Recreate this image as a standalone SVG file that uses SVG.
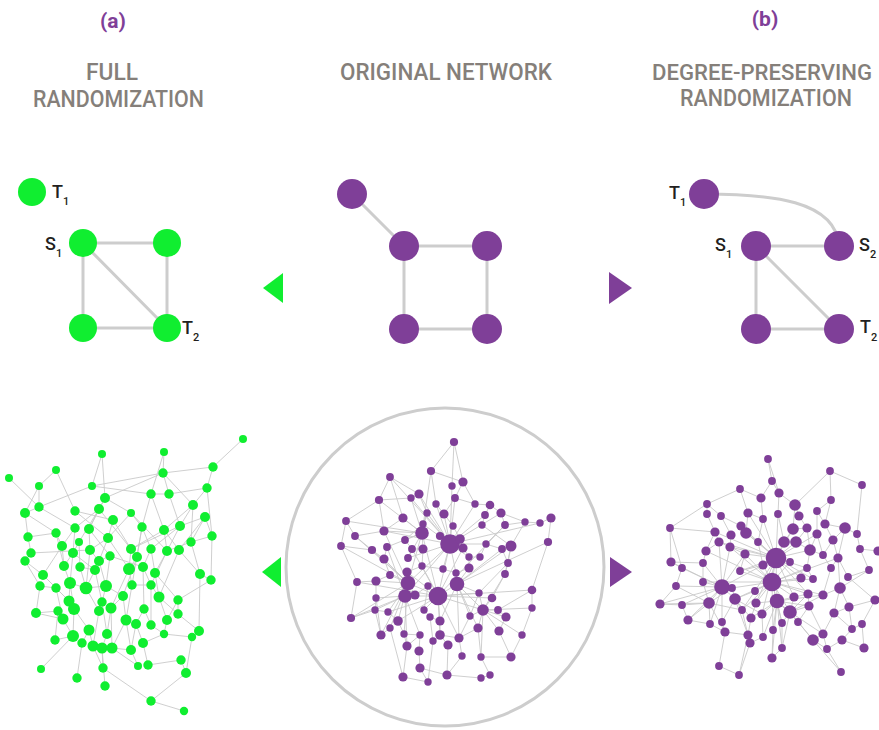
<svg xmlns="http://www.w3.org/2000/svg" width="879" height="730" viewBox="0 0 879 730">
<style>
.hd{font-family:Roboto,"Liberation Sans",Arial,sans-serif;font-weight:500;font-size:24px;fill:#857F7A;text-anchor:middle}
.lt{font-family:Roboto,"Liberation Sans",Arial,sans-serif;font-size:21px;font-weight:bold;fill:#7F3F98;text-anchor:middle}
.lb{font-family:Roboto,"Liberation Sans",Arial,sans-serif;font-weight:500;font-size:18px;fill:#231F20}
.sb{font-size:11px}
.e{stroke:#CDCDCD;stroke-width:3;fill:none}
.ne{stroke:#C9C9C9;stroke-width:0.9;fill:none}
.g{fill:#10EE30}
.p{fill:#7F3F98}
</style>
<rect width="879" height="730" fill="#FFFFFF"/>
<g id="headers">
<text class="lt" x="113" y="28">(a)</text>
<text class="lt" x="765" y="26">(b)</text>
<text class="hd" x="112" y="80" textLength="52" lengthAdjust="spacingAndGlyphs">FULL</text>
<text class="hd" x="118.5" y="107" textLength="171" lengthAdjust="spacingAndGlyphs">RANDOMIZATION</text>
<text class="hd" x="446" y="80" textLength="212" lengthAdjust="spacingAndGlyphs">ORIGINAL NETWORK</text>
<text class="hd" x="762" y="80" style="font-size:22.5px" textLength="220" lengthAdjust="spacingAndGlyphs">DEGREE-PRESERVING</text>
<text class="hd" x="766" y="106" textLength="172" lengthAdjust="spacingAndGlyphs">RANDOMIZATION</text>
</g>
<g id="connectors">
<path class="e" d="M83 243L167 243M83 243L83 328M83 328L167 328M167 243L167 328M83 243L167 328"/>
<path class="e" d="M352 194L404 246M404 246L487 246M404 246L404 329M487 246L487 329M404 329L487 329"/>
<path class="e" d="M704 194C770 194 836 200 839 246M756 246L839 246M756 246L756 329M756 246L839 329M756 329L839 329"/>
</g>
<g id="arrows">
<polygon class="g" points="263,288 283,273 283,303"/>
<polygon class="p" points="632,288 609,272 609,304"/>
<polygon class="g" points="262,572 281,557 281,587"/>
<polygon class="p" points="632,572 610,557 610,587"/>
</g>
<g id="small-full">
<g id="fT1"><circle class="g" cx="32" cy="192" r="14"/><text class="lb" x="52" y="198">T<tspan class="sb" dy="7">1</tspan></text></g>
<g id="fS1"><circle class="g" cx="83" cy="243" r="14"/><text class="lb" x="45" y="250">S<tspan class="sb" dy="7">1</tspan></text></g>
<g id="fA"><circle class="g" cx="167" cy="243" r="14"/></g>
<g id="fB"><circle class="g" cx="83" cy="328" r="14"/></g>
<g id="fT2"><circle class="g" cx="167" cy="328" r="14"/><text class="lb" x="182" y="334">T<tspan class="sb" dy="7">2</tspan></text></g>
</g>
<g id="small-orig">
<g id="oA"><circle class="p" cx="352" cy="194" r="15"/></g>
<g id="oB"><circle class="p" cx="404" cy="246" r="15"/></g>
<g id="oC"><circle class="p" cx="487" cy="246" r="15"/></g>
<g id="oD"><circle class="p" cx="404" cy="329" r="15"/></g>
<g id="oE"><circle class="p" cx="487" cy="329" r="15"/></g>
</g>
<g id="small-deg">
<g id="dT1"><circle class="p" cx="704" cy="194" r="15"/><text class="lb" x="669" y="199">T<tspan class="sb" dy="7">1</tspan></text></g>
<g id="dS1"><circle class="p" cx="756" cy="246" r="15"/><text class="lb" x="715" y="251">S<tspan class="sb" dy="7">1</tspan></text></g>
<g id="dS2"><circle class="p" cx="839" cy="246" r="15"/><text class="lb" x="859" y="251">S<tspan class="sb" dy="7">2</tspan></text></g>
<g id="dB"><circle class="p" cx="756" cy="329" r="15"/></g>
<g id="dT2"><circle class="p" cx="839" cy="329" r="15"/><text class="lb" x="860" y="333">T<tspan class="sb" dy="8">2</tspan></text></g>
</g>
<circle id="orig-circle" cx="445" cy="567" r="159" fill="none" stroke="#CDCDCD" stroke-width="3"/>
<g id="net-full">
<path class="ne" d="M243 439L213 467M213 467L163 473M213 467L207 488M164 452L151 494M102 454L105 498M56 470L75 511M9 478L39 507M39 486L25 513M92 486L39 507M92 486L151 494M163 473L105 498M163 473L193 505M207 488L169 494M207 488L193 505M207 488L212 536M151 494L164 530M151 494L169 494M169 494L180 526M105 498L99 509M105 498L131 513M105 498L89 529M39 507L25 513M39 507L75 528M25 513L28 537M25 513L56 533M75 511L113 520M75 511L108 538M99 509L75 528M99 509L89 529M99 509L79 542M99 509L131 549M131 513L142 527M131 513L167 551M193 505L180 526M193 505L191 542M193 505L164 530M205 517L180 526M205 517L212 536M205 517L191 542M205 517L179 550M113 520L108 538M113 520L131 549M75 528L62 546M75 528L73 553M89 529L90 550M89 529L110 556M142 527L137 557M142 527L132 585M142 527L151 549M164 530L167 551M164 530L179 550M164 530L131 549M180 526L131 549M180 526L151 549M212 536L211 580M212 536L191 542M28 537L31 553M28 537L56 533M56 533L62 546M56 533L64 566M108 538L90 550M108 538L99 561M108 538L129 569M79 542L73 553M79 542L80 567M62 546L64 566M62 546L43 575M191 542L167 551M191 542L200 574M31 553L25 561M31 553L90 550M73 553L64 566M73 553L95 570M90 550L99 561M90 550L86 588M131 549L137 557M131 549L129 569M151 549L143 567M151 549L155 573M167 551L155 573M167 551L151 585M179 550L200 574M179 550L159 597M25 561L43 575M25 561L40 586M110 556L99 561M110 556L106 586M110 556L143 567M137 557L129 569M137 557L123 596M64 566L70 583M80 567L95 570M80 567L86 588M99 561L106 586M129 569L132 585M129 569L111 608M143 567L151 585M143 567L144 609M95 570L86 588M95 570L102 602M43 575L56 588M43 575L69 601M155 573L159 597M155 573L178 600M200 574L211 580M200 574L199 631M211 580L178 600M40 586L36 613M40 586L56 588M56 588L69 601M56 588L63 619M70 583L86 588M70 583L69 601M70 583L74 609M86 588L106 586M86 588L99 611M106 586L123 596M106 586L102 602M132 585L151 585M132 585L126 620M151 585L159 597M151 585L151 625M123 596L126 620M123 596L111 608M159 597L167 620M159 597L178 614M178 600L178 614M178 600L167 620M69 601L74 609M102 602L99 611M102 602L107 634M58 611L36 613M58 611L63 619M58 611L55 640M74 609L89 630M74 609L73 636M111 608L107 634M111 608L112 648M99 611L93 646M36 613L63 619M144 609L136 624M144 609L151 625M63 619L73 636M178 614L199 631M126 620L131 650M126 620L112 648M136 624L143 643M136 624L131 650M151 625L164 634M167 620L164 634M89 630L93 646M89 630L82 643M107 634L102 648M164 634L192 637M164 634L143 643M199 631L192 637M192 637L186 673M55 640L73 636M73 636L41 669M82 643L77 678M93 646L103 668M102 648L105 686M112 648L131 650M131 650L138 666M143 643L148 665M181 660L148 665M181 660L186 673M103 668L151 701M151 701L184 711M151 701L186 673M164 452L163 473M102 454L92 486M151 494L142 527M131 513L108 538M180 526L167 551M73 553L70 583M39 486L39 507M169 494L163 473M112 648L138 666M102 648L103 668M92 486L163 473M56 470L39 486"/>
<circle class="g" cx="243" cy="439" r="4"/><circle class="g" cx="213" cy="467" r="4.7"/><circle class="g" cx="164" cy="452" r="4"/><circle class="g" cx="102" cy="454" r="4"/><circle class="g" cx="56" cy="470" r="4"/><circle class="g" cx="9" cy="478" r="4"/><circle class="g" cx="39" cy="486" r="4"/><circle class="g" cx="92" cy="486" r="4"/><circle class="g" cx="163" cy="473" r="4.7"/><circle class="g" cx="207" cy="488" r="4.7"/>
<circle class="g" cx="151" cy="494" r="4.7"/><circle class="g" cx="169" cy="494" r="4.7"/><circle class="g" cx="105" cy="498" r="5"/><circle class="g" cx="39" cy="507" r="4.7"/><circle class="g" cx="25" cy="513" r="5"/><circle class="g" cx="75" cy="511" r="4.7"/><circle class="g" cx="99" cy="509" r="5"/><circle class="g" cx="131" cy="513" r="4"/><circle class="g" cx="193" cy="505" r="5"/><circle class="g" cx="205" cy="517" r="5"/>
<circle class="g" cx="113" cy="520" r="5"/><circle class="g" cx="75" cy="528" r="4.7"/><circle class="g" cx="89" cy="529" r="5"/><circle class="g" cx="142" cy="527" r="4.7"/><circle class="g" cx="164" cy="530" r="5"/><circle class="g" cx="180" cy="526" r="5"/><circle class="g" cx="212" cy="536" r="4.7"/><circle class="g" cx="28" cy="537" r="4.7"/><circle class="g" cx="56" cy="533" r="4.7"/><circle class="g" cx="108" cy="538" r="5"/>
<circle class="g" cx="79" cy="542" r="4"/><circle class="g" cx="62" cy="546" r="5"/><circle class="g" cx="191" cy="542" r="4.7"/><circle class="g" cx="31" cy="553" r="4.7"/><circle class="g" cx="73" cy="553" r="5"/><circle class="g" cx="90" cy="550" r="5"/><circle class="g" cx="131" cy="549" r="5"/><circle class="g" cx="151" cy="549" r="4.7"/><circle class="g" cx="167" cy="551" r="5"/><circle class="g" cx="179" cy="550" r="5"/>
<circle class="g" cx="25" cy="561" r="4.7"/><circle class="g" cx="110" cy="556" r="4.7"/><circle class="g" cx="137" cy="557" r="5"/><circle class="g" cx="64" cy="566" r="5"/><circle class="g" cx="80" cy="567" r="4.7"/><circle class="g" cx="99" cy="561" r="5"/><circle class="g" cx="129" cy="569" r="6"/><circle class="g" cx="143" cy="567" r="5"/><circle class="g" cx="95" cy="570" r="5"/><circle class="g" cx="43" cy="575" r="5"/>
<circle class="g" cx="155" cy="573" r="5"/><circle class="g" cx="200" cy="574" r="5"/><circle class="g" cx="211" cy="580" r="4.7"/><circle class="g" cx="40" cy="586" r="4.7"/><circle class="g" cx="56" cy="588" r="4.7"/><circle class="g" cx="70" cy="583" r="6"/><circle class="g" cx="86" cy="588" r="6.3"/><circle class="g" cx="106" cy="586" r="6"/><circle class="g" cx="132" cy="585" r="4.7"/><circle class="g" cx="151" cy="585" r="4.7"/>
<circle class="g" cx="123" cy="596" r="5"/><circle class="g" cx="159" cy="597" r="5.5"/><circle class="g" cx="178" cy="600" r="4.7"/><circle class="g" cx="69" cy="601" r="5.5"/><circle class="g" cx="102" cy="602" r="4.7"/><circle class="g" cx="58" cy="611" r="4.7"/><circle class="g" cx="74" cy="609" r="6"/><circle class="g" cx="111" cy="608" r="5.5"/><circle class="g" cx="99" cy="611" r="5"/><circle class="g" cx="36" cy="613" r="5"/>
<circle class="g" cx="144" cy="609" r="4.7"/><circle class="g" cx="63" cy="619" r="5.5"/><circle class="g" cx="178" cy="614" r="4.7"/><circle class="g" cx="126" cy="620" r="5.5"/><circle class="g" cx="136" cy="624" r="5"/><circle class="g" cx="151" cy="625" r="4.7"/><circle class="g" cx="167" cy="620" r="5"/><circle class="g" cx="89" cy="630" r="5.5"/><circle class="g" cx="107" cy="634" r="5"/><circle class="g" cx="164" cy="634" r="4.2"/>
<circle class="g" cx="199" cy="631" r="5"/><circle class="g" cx="192" cy="637" r="4.2"/><circle class="g" cx="55" cy="640" r="4.7"/><circle class="g" cx="73" cy="636" r="6"/><circle class="g" cx="82" cy="643" r="4.7"/><circle class="g" cx="93" cy="646" r="5.5"/><circle class="g" cx="102" cy="648" r="5.5"/><circle class="g" cx="112" cy="648" r="5.5"/><circle class="g" cx="131" cy="650" r="5"/><circle class="g" cx="143" cy="643" r="5"/>
<circle class="g" cx="181" cy="660" r="4.7"/><circle class="g" cx="148" cy="665" r="4.7"/><circle class="g" cx="138" cy="666" r="4"/><circle class="g" cx="41" cy="669" r="4"/><circle class="g" cx="103" cy="668" r="4.7"/><circle class="g" cx="186" cy="673" r="5"/><circle class="g" cx="77" cy="678" r="4.7"/><circle class="g" cx="105" cy="686" r="4.7"/><circle class="g" cx="151" cy="701" r="4.7"/><circle class="g" cx="184" cy="711" r="4.2"/>
</g>
<g id="net-orig">
<path class="ne" d="M454 442L431 471M454 442L463 482M454 442L452 486M431 471L436 504M431 471L463 482M390 477L379 500M390 477L403 518M390 477L419 494M463 482L475 504M463 482L455 498M379 500L346 521M379 500L411 498M379 500L384 531M411 498L419 494M419 494L427 513M455 498L444 514M475 504L490 505M490 505L501 513M490 505L485 515M485 515L482 525M501 513L505 525M501 513L525 522M505 525L525 522M525 522L540 523M540 523L551 518M551 518L548 542M525 522L511 546M505 525L486 544M482 525L511 546M346 521L355 536M346 521L341 546M355 536L372 550M341 546L372 550M341 546L357 582M372 550L384 559M387 547L384 559M355 536L384 531M405 540L412 549M423 524L405 540M502 549L511 546M511 546L508 563M511 546L505 574M548 542L532 590M508 563L505 574M505 574L492 598M532 590L532 608M532 590L498 610M532 608L522 635M498 610L506 617M506 617L499 631M499 631L511 657M522 635L511 657M478 628L481 657M478 628L459 638M470 616L459 638M459 638L462 656M462 656L447 675M447 675L481 678M481 678L490 675M481 657L490 675M481 657L511 657M357 582L376 581M357 582L351 618M351 618L375 610M375 610L388 612M388 612L398 621M375 610L381 635M381 635L390 628M390 628L403 677M403 677L407 646M407 646L404 634M404 634L420 635M420 635L419 651M419 651L420 668M420 668L428 682M428 682L403 677M420 668L447 675M428 682L433 641M433 641L430 617M430 617L440 621M440 621L440 635M440 635L448 645M448 645L447 675M440 635L459 638M420 635L407 646M398 621L404 634M415 595L428 586M428 586L424 610M424 610L430 617M407 572L422 566M422 566L443 569M443 569L456 573M456 573L469 568M469 568L469 557M469 557L480 557M480 557L486 544M486 544L502 549M502 549L508 563M508 563L479 593M479 593L470 616M384 559L390 575M390 575L376 581M376 581L376 598M376 598L375 610M376 598L381 635M403 518L384 531M436 504L444 514M444 514L453 526M453 526L460 539M460 539L463 548M463 548L469 557M455 498L475 504M427 513L423 524M408 558L412 549M412 549L423 549M423 549L422 566
M450 544L452 486M450 544L455 498M450 544L436 504M450 544L427 513M450 544L444 514M450 544L440 536M450 544L485 515M450 544L475 504M450 544L423 524M450 544L408 558M450 544L443 569M450 544L456 573M450 544L408 583M450 544L405 596M450 544L438 596M450 544L469 557M450 544L501 513M450 544L384 531M450 544L419 494M450 544L540 523M450 544L486 544M450 544L390 477M450 544L411 498
M438 596L422 533M438 596L408 583M438 596L405 596M438 596L457 584M438 596L422 566M438 596L428 586M438 596L424 610M438 596L440 621M438 596L398 621M438 596L440 635M438 596L479 593M438 596L492 598M438 596L483 610M438 596L412 549M438 596L407 572M438 596L357 582M438 596L532 590M438 596L463 548M438 596L505 525M438 596L388 612M438 596L459 638
M422 533L411 498M422 533L427 513M422 533L403 518M422 533L405 540M422 533L423 549M422 533L408 558M422 533L408 583M422 533L384 531M422 533L387 547M422 533L431 471M422 533L379 500M422 533L346 521
M408 583L405 596M408 583L415 595M408 583L376 581M408 583L390 575M408 583L384 559M408 583L388 612M408 583L351 618M408 583L398 621M408 583L390 628M408 583L381 635M408 583L404 634M408 583L341 546M408 583L372 550M408 583L355 536M408 583L384 531
M405 596L375 610M405 596L376 598M405 596L420 635M405 596L407 646M405 596L351 618M405 596L387 547
M457 584L469 568M457 584L456 573M457 584L479 593M457 584L470 616M457 584L440 621M457 584L478 628M457 584L502 549M457 584L511 546M457 584L483 610M457 584L459 638M457 584L548 542
M483 610L479 593M483 610L492 598M483 610L498 610M483 610L470 616M483 610L506 617M483 610L478 628M483 610L499 631M483 610L505 574M483 610L532 608M483 610L522 635M483 610L481 657"/>
<circle class="p" cx="454" cy="442" r="4.1"/><circle class="p" cx="431" cy="471" r="4.1"/><circle class="p" cx="390" cy="477" r="3.9"/><circle class="p" cx="463" cy="482" r="4.6"/><circle class="p" cx="452" cy="486" r="3.7"/><circle class="p" cx="379" cy="500" r="4.1"/><circle class="p" cx="411" cy="498" r="3.7"/><circle class="p" cx="419" cy="494" r="4.6"/><circle class="p" cx="455" cy="498" r="3.9"/><circle class="p" cx="436" cy="504" r="3.7"/>
<circle class="p" cx="475" cy="504" r="3.7"/><circle class="p" cx="490" cy="505" r="4.3"/><circle class="p" cx="427" cy="513" r="3.7"/><circle class="p" cx="444" cy="514" r="4.6"/><circle class="p" cx="485" cy="515" r="3.9"/><circle class="p" cx="501" cy="513" r="4.6"/><circle class="p" cx="403" cy="518" r="4.6"/><circle class="p" cx="346" cy="521" r="3.9"/><circle class="p" cx="423" cy="524" r="3.7"/><circle class="p" cx="453" cy="526" r="3.7"/>
<circle class="p" cx="482" cy="525" r="3.7"/><circle class="p" cx="505" cy="525" r="3.9"/><circle class="p" cx="525" cy="522" r="3.7"/><circle class="p" cx="540" cy="523" r="3.7"/><circle class="p" cx="551" cy="518" r="4.6"/><circle class="p" cx="384" cy="531" r="4.6"/><circle class="p" cx="422" cy="533" r="6.8"/><circle class="p" cx="440" cy="536" r="4.1"/><circle class="p" cx="450" cy="544" r="9.8"/><circle class="p" cx="460" cy="539" r="4.8"/>
<circle class="p" cx="355" cy="536" r="3.9"/><circle class="p" cx="405" cy="540" r="3.9"/><circle class="p" cx="341" cy="546" r="3.9"/><circle class="p" cx="372" cy="550" r="4.1"/><circle class="p" cx="387" cy="547" r="3.9"/><circle class="p" cx="412" cy="549" r="3.9"/><circle class="p" cx="423" cy="549" r="4.6"/><circle class="p" cx="463" cy="548" r="4.6"/><circle class="p" cx="486" cy="544" r="3.7"/><circle class="p" cx="502" cy="549" r="3.9"/>
<circle class="p" cx="511" cy="546" r="5.5"/><circle class="p" cx="548" cy="542" r="4.1"/><circle class="p" cx="384" cy="559" r="4.6"/><circle class="p" cx="408" cy="558" r="3.9"/><circle class="p" cx="469" cy="557" r="3.7"/><circle class="p" cx="480" cy="557" r="3.7"/><circle class="p" cx="422" cy="566" r="3.7"/><circle class="p" cx="443" cy="569" r="3.7"/><circle class="p" cx="469" cy="568" r="4.6"/><circle class="p" cx="508" cy="563" r="3.9"/>
<circle class="p" cx="390" cy="575" r="3.9"/><circle class="p" cx="407" cy="572" r="4.6"/><circle class="p" cx="456" cy="573" r="3.7"/><circle class="p" cx="505" cy="574" r="3.9"/><circle class="p" cx="357" cy="582" r="3.9"/><circle class="p" cx="376" cy="581" r="4.6"/><circle class="p" cx="408" cy="583" r="7.3"/><circle class="p" cx="428" cy="586" r="3.7"/><circle class="p" cx="457" cy="584" r="7.3"/><circle class="p" cx="376" cy="598" r="3.7"/>
<circle class="p" cx="405" cy="596" r="6.8"/><circle class="p" cx="415" cy="595" r="4.6"/><circle class="p" cx="438" cy="596" r="9.3"/><circle class="p" cx="479" cy="593" r="3.7"/><circle class="p" cx="492" cy="598" r="4.3"/><circle class="p" cx="532" cy="590" r="4.3"/><circle class="p" cx="375" cy="610" r="3.7"/><circle class="p" cx="388" cy="612" r="3.7"/><circle class="p" cx="424" cy="610" r="3.7"/><circle class="p" cx="483" cy="610" r="5.8"/>
<circle class="p" cx="498" cy="610" r="3.9"/><circle class="p" cx="532" cy="608" r="3.7"/><circle class="p" cx="351" cy="618" r="4.1"/><circle class="p" cx="398" cy="621" r="4.8"/><circle class="p" cx="430" cy="617" r="3.7"/><circle class="p" cx="440" cy="621" r="4.6"/><circle class="p" cx="470" cy="616" r="3.7"/><circle class="p" cx="506" cy="617" r="4.6"/><circle class="p" cx="390" cy="628" r="3.7"/><circle class="p" cx="478" cy="628" r="4.6"/>
<circle class="p" cx="499" cy="631" r="4.6"/><circle class="p" cx="381" cy="635" r="4.6"/><circle class="p" cx="404" cy="634" r="3.7"/><circle class="p" cx="420" cy="635" r="3.7"/><circle class="p" cx="440" cy="635" r="4.8"/><circle class="p" cx="459" cy="638" r="4.6"/><circle class="p" cx="522" cy="635" r="3.7"/><circle class="p" cx="433" cy="641" r="3.7"/><circle class="p" cx="407" cy="646" r="4.6"/><circle class="p" cx="448" cy="645" r="4.6"/>
<circle class="p" cx="419" cy="651" r="4.6"/><circle class="p" cx="462" cy="656" r="3.7"/><circle class="p" cx="481" cy="657" r="3.7"/><circle class="p" cx="511" cy="657" r="4.6"/><circle class="p" cx="420" cy="668" r="4.6"/><circle class="p" cx="403" cy="677" r="4.6"/><circle class="p" cx="428" cy="682" r="3.7"/><circle class="p" cx="447" cy="675" r="4.6"/><circle class="p" cx="481" cy="678" r="3.7"/><circle class="p" cx="490" cy="675" r="3.7"/>
</g>
<g id="net-deg">
<path class="ne" d="M776 558L746 533M776 558L784 542M776 558L796 542M776 558L763 565M776 558L758 542M776 558L763 519M776 558L778 514M776 558L715 532M776 558L719 542M776 558L745 554M776 558L790 562M776 558L772 582M776 558L801 578M776 558L810 550M776 558L793 529M776 558L807 568M776 558L794 597M776 558L808 594M776 558L756 603M776 558L777 601M776 558L762 614M776 558L740 571M776 558L755 591M776 558L813 579M776 558L817 534M776 558L741 526M776 558L748 513M776 558L730 547
M772 582L763 565M772 582L732 588M772 582L755 591M772 582L735 599M772 582L756 603M772 582L777 601M772 582L742 610M772 582L790 562M772 582L807 568M772 582L801 578M772 582L813 579M772 582L794 597M772 582L808 594M772 582L823 595M772 582L740 571M772 582L703 582M772 582L745 554M772 582L730 547M772 582L790 612M772 582L782 623M772 582L773 630M772 582L838 558M772 582L706 551
M777 601L794 597M777 601L790 612M777 601L762 614M777 601L782 623M777 601L798 622M777 601L773 630M777 601L763 637M777 601L782 648M777 601L772 658M777 601L751 618M777 601L809 606M777 601L823 595M777 601L756 603
M722 587L671 562M722 587L703 563M722 587L682 568M722 587L676 586M722 587L703 582M722 587L732 588M722 587L660 604M722 587L682 605M722 587L709 603M722 587L735 599M722 587L688 620M722 587L710 624M722 587L722 622M722 587L745 554M722 587L730 547M722 587L719 542M722 587L776 558
M790 612L794 597M790 612L808 594M790 612L809 606M790 612L798 622M790 612L823 634M790 612L813 640M790 612L782 648M790 612L782 623M790 612L823 595
M709 603L660 604M709 603L682 605M709 603L688 620M709 603L710 624M709 603L725 632M709 603L676 586M709 603L703 582M709 603L742 610M709 603L732 588
M735 599L755 591M735 599L742 610M735 599L751 618M735 599L762 614M735 599L732 588M735 599L722 622M735 599L748 635
M768 459L772 481M768 459L779 493M830 471L862 485M830 471L795 505M862 485L857 534M772 481L761 498M772 481L779 493M740 489L761 498M740 489L748 513M740 489L707 504M779 493L795 505M779 493L778 514M761 498L763 519M831 500L817 511M831 500L825 524M795 505L799 516M795 505L793 529M707 504L707 514M707 504L721 516M707 514L715 532M721 516L741 526M721 516L731 535M748 513L763 519M748 513L746 533M778 514L784 542M799 516L807 528M817 511L817 534M825 524L845 528M825 524L833 540M845 528L857 534M845 528L833 540M845 528L838 558M670 528L715 532M670 528L671 562M670 528L682 568M715 532L706 551M715 532L719 542M731 535L730 547M746 533L758 542M793 529L784 542M793 529L807 528M807 528L810 550M817 534L823 555M857 534L860 549M833 540L823 555M833 540L838 558M810 550L823 555M810 550L807 568M860 549L878 551M860 549L869 570M706 551L703 563M706 551L719 542M823 555L831 568M671 562L682 568M671 562L703 563M703 563L703 582M838 558L831 568M838 558L848 577M838 558L840 588M807 568L813 579M831 568L823 595M869 570L848 577M869 570L840 588M848 577L875 600M676 586L660 604M676 586L682 568M794 597L808 594M808 594L809 606M823 595L840 588M840 588L849 607M840 588L834 613M660 604L682 605M682 605L688 620M809 606L823 634M849 607L834 613M849 607L875 600M849 607L852 629M875 600L862 624M834 613L823 634M834 613L852 629M688 620L710 624M710 624L725 632M722 622L725 632M751 618L748 635M762 614L763 637M782 623L782 648M862 624L852 629M862 624L864 648M725 632L719 666M725 632L748 635M773 630L772 658M748 635L750 643M748 635L739 675M763 637L750 643M823 634L813 640M823 634L827 649M813 640L827 649M813 640L841 672M842 640L864 648M842 640L827 649M782 648L772 658M827 649L841 672M719 666L739 675M750 643L739 675M852 629L842 640M798 622L813 640M809 606L798 622M755 591L742 610M742 610L748 635M756 603L751 618M763 565L740 571M745 554L740 571M730 547L745 554M719 542L730 547M741 526L746 533M763 519L758 542M758 542L763 565M796 542L810 550M784 542L796 542M817 534L810 550M807 528L796 542M817 511L825 524M830 471L831 500M707 504L670 528"/>
<circle class="p" cx="768" cy="459" r="3.9"/><circle class="p" cx="830" cy="471" r="3.9"/><circle class="p" cx="772" cy="481" r="3.9"/><circle class="p" cx="862" cy="485" r="3.9"/><circle class="p" cx="740" cy="489" r="3.9"/><circle class="p" cx="779" cy="493" r="4.6"/><circle class="p" cx="761" cy="498" r="4.6"/><circle class="p" cx="831" cy="500" r="3.9"/><circle class="p" cx="795" cy="505" r="5.8"/><circle class="p" cx="707" cy="504" r="3.9"/>
<circle class="p" cx="707" cy="514" r="3.9"/><circle class="p" cx="721" cy="516" r="3.9"/><circle class="p" cx="748" cy="513" r="4.6"/><circle class="p" cx="778" cy="514" r="3.9"/><circle class="p" cx="799" cy="516" r="4.6"/><circle class="p" cx="817" cy="511" r="3.9"/><circle class="p" cx="763" cy="519" r="3.9"/><circle class="p" cx="741" cy="526" r="4.6"/><circle class="p" cx="825" cy="524" r="4.6"/><circle class="p" cx="845" cy="528" r="5.8"/>
<circle class="p" cx="670" cy="528" r="3.9"/><circle class="p" cx="715" cy="532" r="4.6"/><circle class="p" cx="731" cy="535" r="4.6"/><circle class="p" cx="746" cy="533" r="5.8"/><circle class="p" cx="793" cy="529" r="5.8"/><circle class="p" cx="807" cy="528" r="4.6"/><circle class="p" cx="817" cy="534" r="4.6"/><circle class="p" cx="857" cy="534" r="3.9"/><circle class="p" cx="719" cy="542" r="4.6"/><circle class="p" cx="758" cy="542" r="3.9"/>
<circle class="p" cx="784" cy="542" r="5.8"/><circle class="p" cx="796" cy="542" r="5.8"/><circle class="p" cx="833" cy="540" r="4.6"/><circle class="p" cx="730" cy="547" r="4.6"/><circle class="p" cx="810" cy="550" r="5.8"/><circle class="p" cx="860" cy="549" r="3.9"/><circle class="p" cx="878" cy="551" r="4.6"/><circle class="p" cx="706" cy="551" r="4.6"/><circle class="p" cx="745" cy="554" r="4.6"/><circle class="p" cx="776" cy="558" r="10.3"/>
<circle class="p" cx="823" cy="555" r="3.9"/><circle class="p" cx="671" cy="562" r="4.6"/><circle class="p" cx="703" cy="563" r="3.9"/><circle class="p" cx="763" cy="565" r="4.6"/><circle class="p" cx="790" cy="562" r="3.9"/><circle class="p" cx="838" cy="558" r="4.6"/><circle class="p" cx="682" cy="568" r="3.9"/><circle class="p" cx="740" cy="571" r="3.9"/><circle class="p" cx="807" cy="568" r="3.9"/><circle class="p" cx="831" cy="568" r="3.9"/>
<circle class="p" cx="869" cy="570" r="3.9"/><circle class="p" cx="772" cy="582" r="9.3"/><circle class="p" cx="801" cy="578" r="4.6"/><circle class="p" cx="813" cy="579" r="3.9"/><circle class="p" cx="848" cy="577" r="3.9"/><circle class="p" cx="676" cy="586" r="3.9"/><circle class="p" cx="703" cy="582" r="3.9"/><circle class="p" cx="722" cy="587" r="7.8"/><circle class="p" cx="732" cy="588" r="3.9"/><circle class="p" cx="755" cy="591" r="3.9"/>
<circle class="p" cx="794" cy="597" r="4.6"/><circle class="p" cx="808" cy="594" r="4.6"/><circle class="p" cx="823" cy="595" r="4.6"/><circle class="p" cx="840" cy="588" r="5.8"/><circle class="p" cx="660" cy="604" r="4.6"/><circle class="p" cx="682" cy="605" r="3.9"/><circle class="p" cx="709" cy="603" r="5.8"/><circle class="p" cx="735" cy="599" r="5.8"/><circle class="p" cx="756" cy="603" r="4.6"/><circle class="p" cx="777" cy="601" r="7.3"/>
<circle class="p" cx="809" cy="606" r="4.6"/><circle class="p" cx="849" cy="607" r="4.6"/><circle class="p" cx="875" cy="600" r="4.6"/><circle class="p" cx="742" cy="610" r="3.9"/><circle class="p" cx="790" cy="612" r="6.8"/><circle class="p" cx="834" cy="613" r="4.6"/><circle class="p" cx="688" cy="620" r="4.6"/><circle class="p" cx="710" cy="624" r="3.9"/><circle class="p" cx="722" cy="622" r="3.9"/><circle class="p" cx="751" cy="618" r="4.6"/>
<circle class="p" cx="762" cy="614" r="4.6"/><circle class="p" cx="782" cy="623" r="3.9"/><circle class="p" cx="798" cy="622" r="3.9"/><circle class="p" cx="862" cy="624" r="3.9"/><circle class="p" cx="725" cy="632" r="4.6"/><circle class="p" cx="773" cy="630" r="3.9"/><circle class="p" cx="852" cy="629" r="3.9"/><circle class="p" cx="748" cy="635" r="4.6"/><circle class="p" cx="763" cy="637" r="3.9"/><circle class="p" cx="823" cy="634" r="4.6"/>
<circle class="p" cx="750" cy="643" r="4.6"/><circle class="p" cx="813" cy="640" r="5.8"/><circle class="p" cx="842" cy="640" r="4.6"/><circle class="p" cx="782" cy="648" r="3.9"/><circle class="p" cx="827" cy="649" r="3.9"/><circle class="p" cx="864" cy="648" r="4.6"/><circle class="p" cx="772" cy="658" r="4.6"/><circle class="p" cx="719" cy="666" r="3.9"/><circle class="p" cx="841" cy="672" r="3.9"/><circle class="p" cx="739" cy="675" r="3.9"/>
</g>
</svg>
